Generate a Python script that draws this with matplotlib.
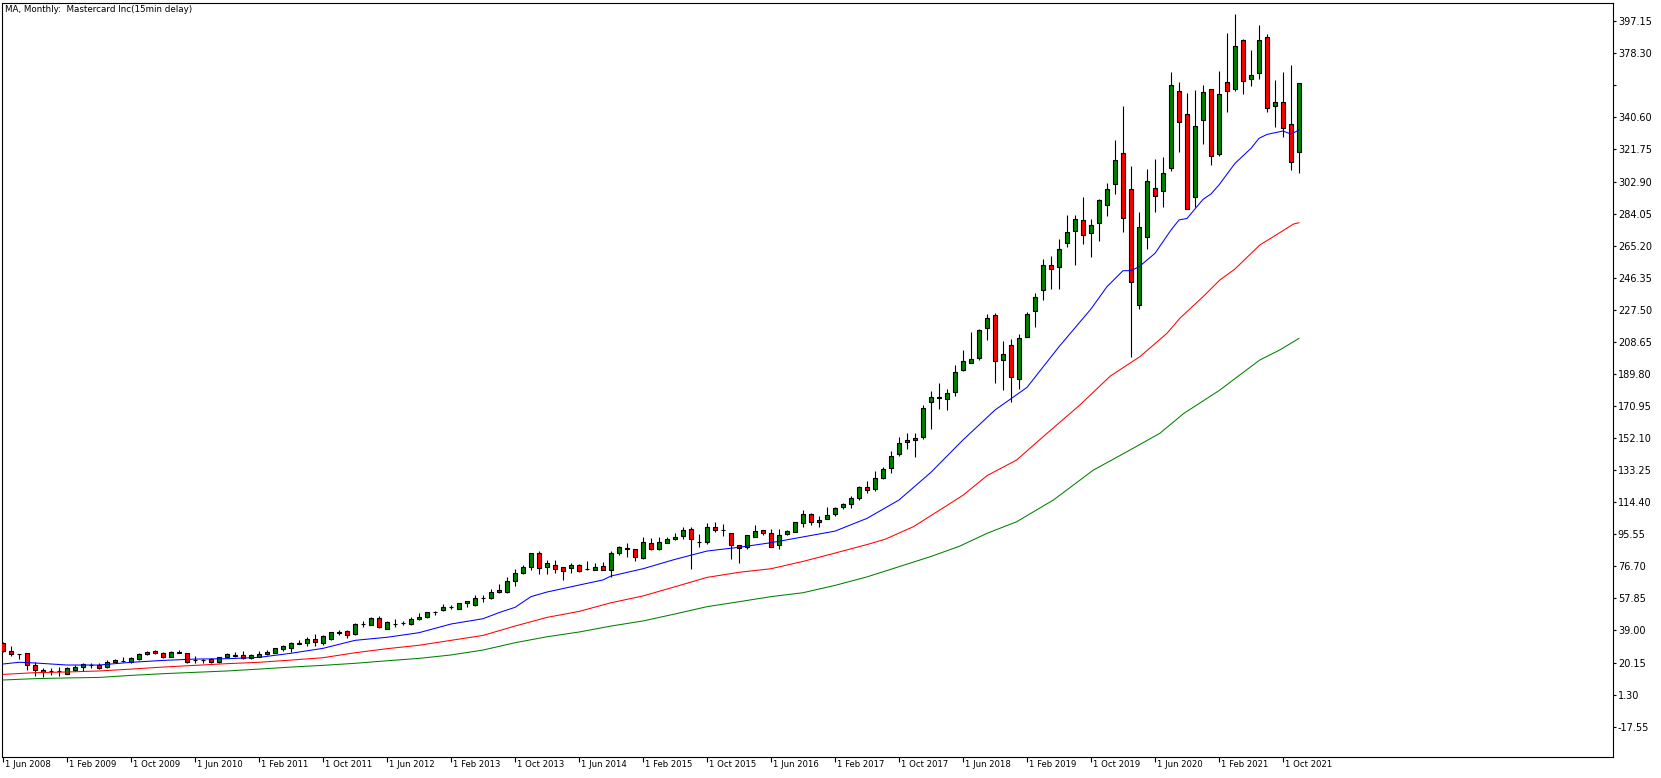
import matplotlib
matplotlib.use("Agg")
import matplotlib.pyplot as plt
import numpy as np

# monthly candles of Mastercard, first bar = Jun 2008, last bar = Dec 2021
opens = [
    31.4, 26.9, 25.1, 25.7, 18.5, 15.8, 15.2, 15.1, 13.6, 15.8,
    17.3, 18.5, 18.5, 17.3, 20.5, 21.0, 20.7, 22.4, 25.0, 27.1,
    26.0, 23.2, 25.6, 26.0, 21.5, 21.4, 22.0, 20.7, 23.2, 24.0,
    24.8, 22.8, 23.6, 25.0, 26.0, 28.3, 28.9, 31.0, 31.4, 33.8,
    31.8, 34.2, 37.8, 38.5, 36.7, 43.0, 42.4, 46.1, 40.0, 43.0,
    43.2, 42.6, 46.0, 46.7, 49.8, 51.2, 52.8, 51.8, 54.9, 54.2,
    58.3, 58.3, 62.6, 61.6, 67.9, 72.9, 76.5, 84.3, 76.5, 77.3,
    76.1, 75.9, 77.3, 74.9, 74.3, 76.7, 74.3, 84.3, 86.9, 87.1,
    81.8, 90.4, 86.9, 90.6, 92.9, 94.7, 98.4, 91.0, 91.2, 99.6,
    98.0, 96.1, 89.0, 87.9, 94.1, 98.0, 96.1, 89.4, 95.5, 97.1,
    102.0, 107.3, 102.6, 104.7, 107.3, 111.8, 113.1, 117.0, 123.1, 122.1,
    128.8, 134.3, 142.5, 150.0, 151.0, 152.5, 173.1, 176.4, 174.8, 179.0,
    192.1, 196.0, 199.2, 217.0, 224.2, 198.2, 206.6, 187.0, 211.7, 227.0,
    238.9, 253.6, 252.4, 266.6, 273.6, 280.1, 272.8, 278.7, 289.3, 301.2,
    319.5, 298.3, 230.1, 270.5, 298.9, 297.5, 310.6, 356.1, 342.4, 293.6,
    338.9, 357.1, 319.3, 361.2, 357.1, 385.9, 363.0, 366.5, 387.7, 347.1,
    349.4, 336.5, 320.4,
]
highs = [
    32.0, 29.9, 25.2, 25.8, 20.7, 17.1, 16.7, 17.7, 17.3, 18.7,
    20.1, 19.7, 19.7, 21.6, 22.4, 23.6, 23.6, 25.6, 27.1, 27.5,
    26.5, 26.7, 27.5, 26.0, 24.0, 22.4, 22.8, 23.6, 25.6, 26.5,
    27.1, 25.2, 27.1, 27.5, 28.9, 30.3, 32.4, 33.4, 35.3, 36.9,
    36.3, 38.3, 39.3, 39.3, 43.6, 44.8, 46.7, 47.7, 44.6, 45.5,
    44.4, 46.7, 49.1, 50.0, 50.6, 54.6, 54.0, 55.3, 56.5, 59.6,
    59.8, 63.4, 66.1, 70.6, 74.9, 77.3, 84.3, 85.7, 80.4, 80.4,
    76.1, 78.5, 77.9, 79.8, 78.5, 79.2, 85.7, 88.6, 90.2, 87.1,
    93.7, 93.3, 93.7, 94.1, 96.5, 99.6, 100.0, 95.7, 102.3, 102.7,
    101.6, 96.1, 89.4, 95.3, 100.8, 98.0, 98.4, 98.4, 98.0, 103.0,
    109.8, 108.3, 106.3, 111.4, 111.8, 113.7, 118.0, 123.9, 126.9, 132.7,
    135.3, 144.5, 152.9, 154.9, 154.9, 171.5, 180.0, 184.3, 180.7, 195.0,
    203.9, 214.6, 216.0, 225.0, 225.4, 209.1, 210.1, 213.3, 226.0, 237.2,
    257.3, 259.1, 268.9, 283.2, 283.2, 293.6, 280.9, 292.4, 302.2, 327.3,
    347.3, 312.0, 285.0, 310.1, 316.1, 317.1, 367.5, 361.4, 354.9, 356.7,
    359.6, 357.1, 368.1, 390.0, 401.4, 386.5, 380.2, 394.9, 389.6, 362.6,
    367.5, 371.4, 360.6,
]
lows = [
    26.6, 24.0, 22.2, 15.8, 12.4, 11.8, 12.8, 12.2, 13.2, 15.4,
    15.4, 16.9, 16.1, 16.7, 20.3, 20.7, 20.1, 21.6, 24.4, 25.2,
    22.8, 23.2, 25.6, 20.1, 20.1, 20.1, 20.1, 19.7, 22.8, 23.6,
    22.4, 22.4, 23.2, 24.6, 26.0, 27.1, 26.5, 31.0, 29.9, 29.9,
    30.3, 33.4, 36.3, 34.4, 36.3, 41.2, 42.0, 40.2, 39.7, 41.2,
    42.0, 42.2, 45.2, 46.3, 47.9, 50.6, 51.8, 51.4, 52.6, 53.6,
    55.9, 57.3, 60.8, 61.2, 65.3, 72.4, 74.5, 72.2, 72.2, 73.0,
    68.7, 73.0, 73.4, 74.5, 74.3, 74.3, 70.6, 83.2, 82.4, 80.0,
    81.2, 86.3, 86.3, 90.2, 92.2, 92.6, 74.9, 88.3, 89.8, 96.9,
    94.5, 81.2, 78.8, 86.7, 93.7, 94.9, 87.9, 87.1, 95.1, 96.9,
    100.0, 100.8, 100.0, 104.3, 106.5, 110.6, 111.2, 115.7, 120.0, 121.2,
    127.8, 131.8, 141.5, 145.5, 140.8, 151.3, 157.2, 169.0, 168.4, 177.0,
    191.7, 196.0, 198.0, 209.7, 184.3, 180.3, 173.3, 181.1, 211.7, 217.6,
    233.3, 239.9, 239.9, 264.6, 254.0, 266.2, 258.7, 268.1, 282.6, 295.5,
    273.4, 199.9, 227.8, 263.0, 285.0, 288.1, 309.3, 320.4, 286.5, 288.1,
    325.0, 312.4, 317.9, 344.0, 356.3, 354.3, 359.0, 363.2, 343.7, 335.1,
    328.9, 309.7, 307.7,
]
closes = [
    27.1, 25.0, 25.0, 18.5, 15.6, 14.8, 15.2, 15.3, 16.7, 17.7,
    19.3, 18.5, 17.0, 20.5, 21.4, 21.0, 22.8, 25.0, 26.5, 25.6,
    23.2, 26.3, 26.5, 20.7, 21.5, 21.6, 20.5, 23.2, 25.2, 24.7,
    22.8, 24.4, 25.2, 26.5, 28.5, 29.9, 31.4, 31.8, 33.8, 32.2,
    35.7, 37.9, 38.1, 36.1, 42.8, 43.0, 46.3, 41.2, 44.0, 43.0,
    43.2, 45.5, 46.7, 49.7, 49.8, 52.8, 52.9, 54.9, 56.1, 58.1,
    58.3, 61.4, 61.4, 68.1, 72.6, 76.5, 84.3, 75.9, 78.5, 75.3,
    74.1, 77.3, 73.7, 74.9, 76.1, 74.3, 84.3, 88.1, 87.5, 82.4,
    90.8, 86.7, 90.8, 92.6, 93.7, 98.0, 92.9, 91.0, 99.6, 98.2,
    98.0, 89.4, 87.3, 94.9, 97.2, 96.5, 88.3, 95.3, 97.5, 102.6,
    107.4, 102.6, 103.9, 106.9, 110.8, 113.1, 116.6, 123.1, 121.8, 128.4,
    133.7, 141.5, 149.0, 150.8, 152.1, 169.6, 176.0, 175.4, 178.4, 190.7,
    197.2, 198.4, 215.4, 222.5, 197.6, 201.3, 188.2, 210.7, 224.8, 234.8,
    253.6, 251.7, 263.0, 273.2, 280.7, 271.3, 277.3, 292.0, 298.3, 315.3,
    281.3, 243.6, 276.0, 303.0, 294.6, 307.7, 359.4, 337.7, 286.9, 335.3,
    355.3, 317.7, 354.1, 355.9, 382.4, 361.8, 365.5, 385.9, 345.9, 349.4,
    334.2, 314.6, 360.6,
]

# moving averages (bar index, value)
blue_idx = [0, 2, 4, 8, 12, 16, 20, 24, 28, 32, 36, 40, 44, 48, 52, 56, 60, 62, 64,
            66, 68, 72, 75, 76, 80, 84, 88, 92, 96, 100, 104, 108, 112, 116, 120,
            124, 128, 132, 136, 138, 140, 141, 142, 144, 146, 147, 148, 150, 151,
            152, 154, 156, 157, 158, 160, 161, 162]
blue_ma = [19.3, 20.3, 19.9, 18.7, 18.7, 20.3, 21.4, 22.2, 22.4, 23.2, 25.6, 28.5,
           33.2, 35.0, 37.7, 42.8, 45.9, 49.5, 52.6, 58.9, 61.6, 65.7, 68.7, 71.0,
           75.3, 80.8, 85.7, 87.9, 90.6, 94.0, 97.4, 104.9, 115.7, 132.0, 151.0,
           168.6, 181.9, 205.8, 228.0, 241.1, 250.5, 250.5, 252.8, 260.7, 274.4,
           280.3, 281.2, 292.4, 295.6, 300.9, 313.6, 322.4, 328.3, 330.6, 332.6,
           330.8, 333.2]

red_idx = list(range(0, 101, 4)) + [104, 108, 110.25, 113.8, 118.4, 120, 123, 126.7,
                                    130.5, 134.6, 138.4, 140.5, 142.1, 145.5, 147.1,
                                    150, 152.1, 154, 157.1, 158.8, 161.3, 162]
red_ma = [13.2, 14.2, 14.6, 15.2, 16.3, 17.5, 18.5, 19.5, 20.3, 21.6, 23.0, 25.9,
          28.3, 30.3, 33.2, 36.1, 41.6, 46.7, 50.2, 55.3, 59.3, 64.7, 70.2, 73.2,
          75.3, 79.6, 84.5, 89.5, 92.6, 100.0, 113.7, 118.5, 130.0, 139.2, 154.9,
          171.5, 188.5, 195.0, 199.9, 213.7, 222.5, 235.2, 245.0, 251.5, 265.6,
          270.5, 277.9, 278.7]

green_idx = list(range(0, 101, 4)) + [104, 108, 112, 116, 119.6, 123, 126.7, 131.3,
                                      136.3, 140.5, 144.6, 147.6, 152.1, 154.6, 157.1,
                                      159.6, 162]
green_ma = [9.9, 10.7, 11.1, 11.4, 12.6, 13.6, 14.4, 15.2, 16.3, 17.5, 18.5, 19.7,
            21.2, 22.6, 24.6, 27.5, 31.8, 35.3, 38.1, 41.6, 44.6, 48.7, 53.0, 55.9,
            58.9, 61.2, 65.5, 70.5, 76.5, 82.5, 88.6, 96.1, 102.9, 115.7, 133.3,
            144.1, 154.9, 166.6, 180.3, 189.2, 198.0, 203.9, 210.7]

x_tick_idx = list(range(0, 161, 8))
x_tick_labels = ['1 Jun 2008', '1 Feb 2009', '1 Oct 2009', '1 Jun 2010', '1 Feb 2011',
                 '1 Oct 2011', '1 Jun 2012', '1 Feb 2013', '1 Oct 2013', '1 Jun 2014',
                 '1 Feb 2015', '1 Oct 2015', '1 Jun 2016', '1 Feb 2017', '1 Oct 2017',
                 '1 Jun 2018', '1 Feb 2019', '1 Oct 2019', '1 Jun 2020', '1 Feb 2021',
                 '1 Oct 2021']
y_tick_vals = [397.15, 378.30, 359.45, 340.60, 321.75, 302.90, 284.05, 265.20,
               246.35, 227.50, 208.65, 189.80, 170.95, 152.10, 133.25, 114.40,
               95.55, 76.70, 57.85, 39.00, 20.15, 1.30, -17.55]
y_tick_labels = ['397.15', '378.30', '', '340.60', '321.75', '302.90', '284.05',
                 '265.20', '246.35', '227.50', '208.65', '189.80', '170.95',
                 '152.10', '133.25', '114.40', '95.55', '76.70', '57.85', '39.00',
                 '20.15', '1.30', '-17.55']

W, H = 1661, 778
fig = plt.figure(figsize=(W / 100, H / 100), dpi=100)
ax = fig.add_axes([2 / W, 21 / H, 1611 / W, 754 / H])

o = np.array(opens)
h = np.array(highs)
l = np.array(lows)
c = np.array(closes)
x = np.arange(len(c))
up = c >= o

ax.vlines(x, l, h, color='black', linewidth=0.8, zorder=2)
ax.bar(x[up], (c - o)[up], bottom=o[up], width=0.6, color='#008000',
       edgecolor='black', linewidth=0.8, zorder=3)
ax.bar(x[~up], (o - c)[~up], bottom=c[~up], width=0.6, color='#ff0000',
       edgecolor='black', linewidth=0.8, zorder=3)

ax.plot(blue_idx, blue_ma, color='#0000ff', linewidth=0.75, zorder=4)
ax.plot(red_idx, red_ma, color='#ff0000', linewidth=0.75, zorder=4)
ax.plot(green_idx, green_ma, color='#008000', linewidth=0.75, zorder=4)

ax.set_xlim(-0.125, 201.25)
ax.set_ylim(-35.37, 407.85)

ax.yaxis.tick_right()
ax.set_yticks(y_tick_vals)
ax.set_yticklabels(y_tick_labels)
ax.tick_params(axis='y', direction='out', length=2.5, width=0.8, pad=1, labelsize=7)

ax.set_xticks(x_tick_idx)
ax.set_xticklabels([''] * len(x_tick_idx))
ax.tick_params(axis='x', direction='out', length=3.5, width=0.8)
for i, lab in zip(x_tick_idx, x_tick_labels):
    ax.text(i + 0.2, -3 / 754, lab, transform=ax.get_xaxis_transform(),
            ha='left', va='top', fontsize=6.1)

for s in ax.spines.values():
    s.set_linewidth(0.8)
    s.set_color('black')

fig.text(5 / W, 1 - 5 / H, 'MA, Monthly:  Mastercard Inc(15min delay)',
         ha='left', va='top', fontsize=6.3)

fig.savefig('out.png', dpi=100)
